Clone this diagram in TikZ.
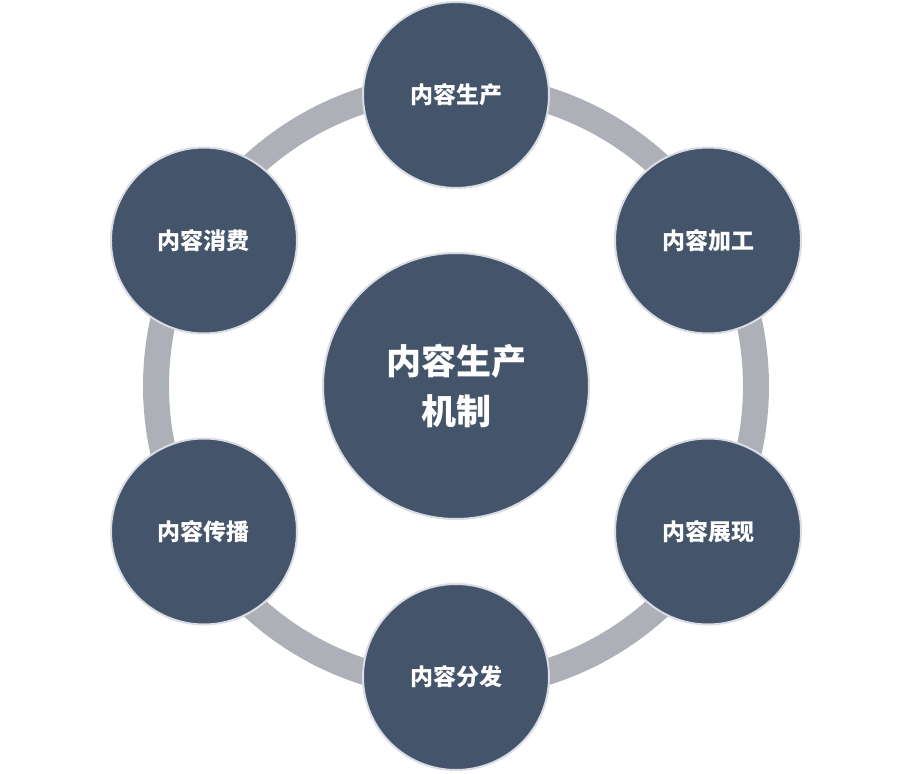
\documentclass[tikz,border=0pt]{standalone}
\usepackage{fontspec}
\usetikzlibrary{calc}
\newfontfamily\cjk{Noto Sans CJK SC}
\definecolor{fillc}{HTML}{44546A}
\definecolor{ringc}{HTML}{ADB0B7}
\definecolor{edgec}{HTML}{D9DDE3}
\begin{document}
\begin{tikzpicture}[x=1pt,y=1pt,
  small/.style={circle,fill=fillc,draw=edgec,line width=2pt,minimum size=186pt,inner sep=0pt,text=white,font=\cjk\bfseries\fontsize{23}{28}\selectfont},
  big/.style={circle,fill=fillc,draw=edgec,line width=2pt,minimum size=266pt,inner sep=0pt,text=white,align=center,font=\cjk\bfseries\fontsize{35}{50}\selectfont}]
\useasboundingbox (0,0) rectangle (914,-774);
\coordinate (c) at (456,-386);
\draw[ringc,line width=26pt] (c) circle (300);
\node[big] (m) at (c) {内容生产\\机制};
\node[small] (n1) at ($(c)+(90:291)$) {内容生产};
\node[small] (n2) at ($(c)+(30:291)$) {内容加工};
\node[small] (n3) at ($(c)+(-30:291)$) {内容展现};
\node[small] (n4) at ($(c)+(-90:291)$) {内容分发};
\node[small] (n5) at ($(c)+(-150:291)$) {内容传播};
\node[small] (n6) at ($(c)+(150:291)$) {内容消费};
\end{tikzpicture}
\end{document}
